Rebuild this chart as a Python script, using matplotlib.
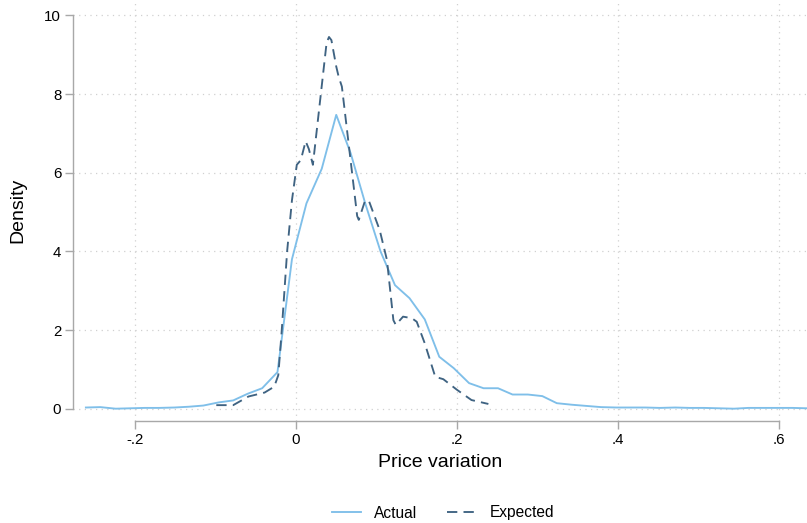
import matplotlib
matplotlib.use('Agg')
import matplotlib.pyplot as plt

plt.rcParams['font.family'] = ['Liberation Sans', 'DejaVu Sans']

# kernel density of the actual price variation (50 evaluation points)
actual_x = [-0.261, -0.243, -0.224, -0.206, -0.188, -0.170, -0.151, -0.133, -0.115, -0.096,
            -0.078, -0.060, -0.042, -0.023, -0.005, 0.013, 0.032, 0.050, 0.068, 0.086,
            0.105, 0.123, 0.141, 0.160, 0.178, 0.196, 0.215, 0.233, 0.251, 0.269,
            0.288, 0.306, 0.324, 0.343, 0.361, 0.379, 0.398, 0.416, 0.434, 0.452,
            0.471, 0.489, 0.507, 0.526, 0.544, 0.562, 0.580, 0.599, 0.617, 0.635]
actual_y = [0.03, 0.04, 0.00, 0.01, 0.02, 0.02, 0.03, 0.05, 0.08, 0.16,
            0.21, 0.38, 0.52, 0.93, 3.80, 5.22, 6.10, 7.47, 6.49, 5.22,
            4.00, 3.14, 2.81, 2.27, 1.32, 1.03, 0.65, 0.52, 0.52, 0.36,
            0.36, 0.32, 0.14, 0.10, 0.07, 0.04, 0.03, 0.03, 0.03, 0.02,
            0.03, 0.02, 0.02, 0.01, 0.00, 0.02, 0.02, 0.02, 0.02, 0.01]

# kernel density of the expected price variation
expected_x = [-0.099, -0.078, -0.059, -0.039, -0.027, -0.022, -0.018, -0.011, -0.005, 0.001,
              0.006, 0.012, 0.016, 0.021, 0.038, 0.041, 0.044, 0.050, 0.053, 0.057,
              0.076, 0.078, 0.086, 0.091, 0.104, 0.113, 0.121, 0.124, 0.133, 0.144,
              0.150, 0.160, 0.173, 0.183, 0.200, 0.218, 0.239]
expected_y = [0.09, 0.09, 0.31, 0.41, 0.56, 0.85, 1.90, 4.00, 5.30, 6.20,
              6.32, 6.80, 6.60, 6.20, 9.30, 9.45, 9.37, 8.70, 8.44, 8.19,
              4.90, 4.80, 5.30, 5.26, 4.54, 3.78, 2.25, 2.13, 2.34, 2.30,
              2.21, 1.66, 0.81, 0.75, 0.48, 0.22, 0.12]

xticks = [-0.2, 0, 0.2, 0.4, 0.6]
xticklabels = ['-.2', '0', '.2', '.4', '.6']
yticks = [0, 2, 4, 6, 8, 10]

axis_grey = '#a8a8a8'
grid_grey = '#d0d0d0'

fig = plt.figure(figsize=(8.07, 5.23), dpi=100)
ax = fig.add_axes([73 / 807, 102 / 523, 734 / 807, 421 / 523])

ax.plot(actual_x, actual_y, color='#7fbfe9', lw=1.35, label='Actual', zorder=3)
ax.plot(expected_x, expected_y, color='#3f6382', lw=1.35, linestyle=(0, (5.5, 3.3)),
        label='Expected', zorder=4)

ax.set_xlim(-0.277, 0.6348)
ax.set_ylim(-0.313, 10.39)
ax.set_xticks(xticks)
ax.set_xticklabels(xticklabels)
ax.set_yticks(yticks)

for v in yticks:
    ax.axhline(v, color=grid_grey, lw=0.9, linestyle=(0, (1, 3.5)), zorder=1)
for v in xticks:
    ax.axvline(v, color=grid_grey, lw=0.9, linestyle=(0, (1, 3.5)), zorder=1)

for side in ('top', 'right'):
    ax.spines[side].set_visible(False)
ax.spines['left'].set_bounds(0, 10)
ax.spines['bottom'].set_bounds(-0.2, 0.6)
for side in ('left', 'bottom'):
    ax.spines[side].set_color(axis_grey)
    ax.spines[side].set_linewidth(1.0)

ax.tick_params(axis='both', colors=axis_grey, labelcolor='black', length=5.5,
               width=1.0, labelsize=10.8, pad=3)

ax.set_xlabel('Price variation', fontsize=14, labelpad=5)
ax.set_ylabel('Density', fontsize=14, labelpad=13)

fig.legend(loc='center', bbox_to_anchor=(443 / 807, 1 - 513 / 523), ncol=2,
           frameon=False, fontsize=11.2, handlelength=1.9, handletextpad=0.85,
           columnspacing=1.9)

fig.savefig('out.png', dpi=100)
